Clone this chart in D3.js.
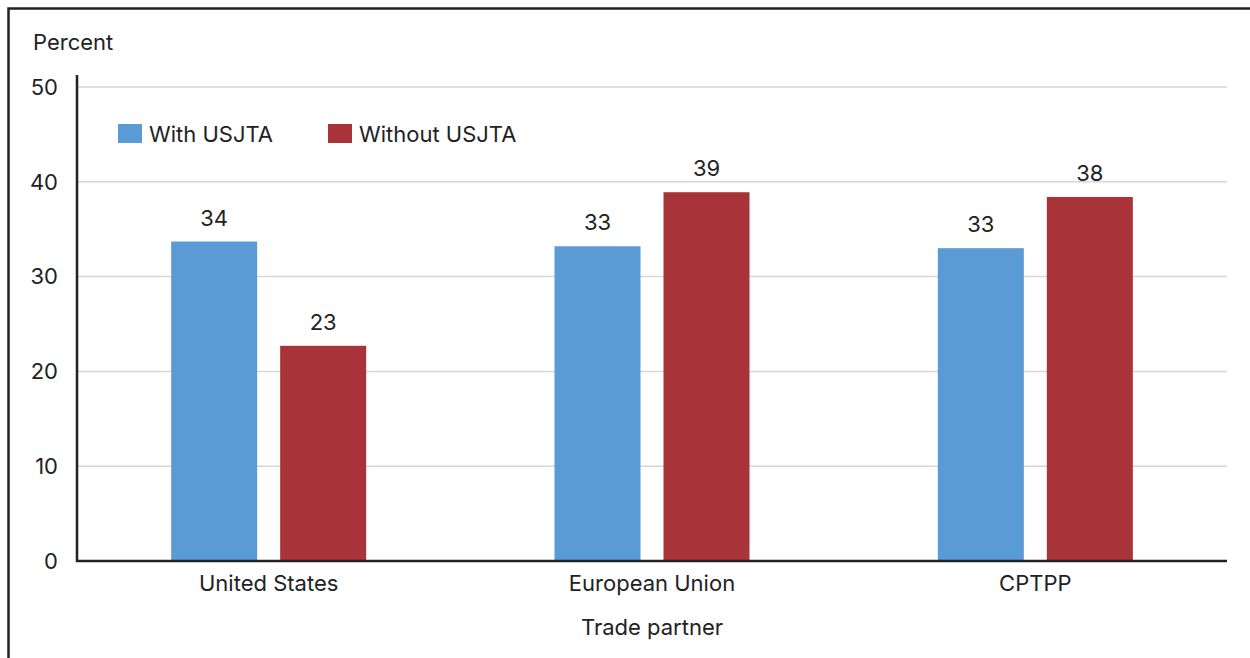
<!DOCTYPE html>
<html>
<head>
<meta charset="utf-8">
<script src="https://cdn.jsdelivr.net/npm/d3@7"></script>
<style>
  body { margin: 0; background: #fff; }
  svg { display: block; font-family: Inter, "Noto Sans", sans-serif; }
</style>
</head>
<body>
<svg id="chart" width="1250" height="658"></svg>
<script>
// Chart data
const partners = ['United States', 'European Union', 'CPTPP'];
const seriesNames = ['With USJTA', 'Without USJTA'];
const withUSJTA = [33.7, 33.2, 33.0];
const withoutUSJTA = [22.7, 38.9, 38.4];
const labelsWith = ['34', '33', '33'];
const labelsWithout = ['23', '39', '38'];
const yTicks = [0, 10, 20, 30, 40, 50];

const colors = ['#5b9bd5', '#a83339'];
const textColor = '#222';
const fs = 22;

const svg = d3.select('#chart');
const margin = { left: 77, right: 23, top: 87, bottom: 97 };
const W = 1250, H = 658;
const groupW = 195;

// Frame (top and left edges only)
svg.append('path')
    .attr('d', `M8.5,658 V8.5 H1250`)
    .attr('fill', 'none')
    .attr('stroke', '#222')
    .attr('stroke-width', 2.5);

const x0 = d3.scaleBand()
    .domain(partners)
    .range([margin.left, W - margin.right]);

const x1 = d3.scaleBand()
    .domain(seriesNames)
    .range([0, groupW])
    .paddingInner(0.211);

const y = d3.scaleLinear()
    .domain([0, 50])
    .range([H - margin.bottom, margin.top]);

// Gridlines
svg.append('g')
    .selectAll('line')
    .data(yTicks.filter(d => d > 0))
    .join('line')
    .attr('x1', margin.left)
    .attr('x2', W - margin.right)
    .attr('y1', d => y(d))
    .attr('y2', d => y(d))
    .attr('stroke', '#d6d6d6')
    .attr('stroke-width', 1.5);

// Y tick labels
svg.append('g')
    .selectAll('text')
    .data(yTicks)
    .join('text')
    .attr('x', 58)
    .attr('y', d => y(d))
    .attr('dy', '0.35em')
    .attr('text-anchor', 'end')
    .attr('font-size', fs)
    .attr('fill', textColor)
    .text(d => d);

svg.append('text')
    .attr('x', 33)
    .attr('y', 50)
    .attr('font-size', fs)
    .attr('fill', textColor)
    .text('Percent');

// Bars
const rows = partners.map((p, i) => ({
    partner: p,
    vals: [
        { s: seriesNames[0], v: withUSJTA[i], lab: labelsWith[i], c: colors[0] },
        { s: seriesNames[1], v: withoutUSJTA[i], lab: labelsWithout[i], c: colors[1] }
    ]
}));

const groups = svg.append('g')
    .selectAll('g')
    .data(rows)
    .join('g')
    .attr('transform', d => `translate(${x0(d.partner) + (x0.bandwidth() - groupW) / 2},0)`);

groups.selectAll('rect')
    .data(d => d.vals)
    .join('rect')
    .attr('x', d => x1(d.s))
    .attr('width', x1.bandwidth())
    .attr('y', d => y(d.v))
    .attr('height', d => y(0) - y(d.v))
    .attr('fill', d => d.c);

groups.selectAll('text')
    .data(d => d.vals)
    .join('text')
    .attr('x', d => x1(d.s) + x1.bandwidth() / 2)
    .attr('y', d => y(d.v) - 16)
    .attr('text-anchor', 'middle')
    .attr('font-size', fs)
    .attr('fill', textColor)
    .text(d => d.lab);

// Axis lines
svg.append('line')
    .attr('x1', margin.left).attr('x2', margin.left)
    .attr('y1', y(50) - 12).attr('y2', y(0) + 1)
    .attr('stroke', '#222').attr('stroke-width', 2.5);

svg.append('line')
    .attr('x1', margin.left - 1).attr('x2', W - margin.right)
    .attr('y1', y(0)).attr('y2', y(0))
    .attr('stroke', '#222').attr('stroke-width', 2.5);

// Category labels
svg.append('g')
    .selectAll('text')
    .data(partners)
    .join('text')
    .attr('x', d => x0(d) + x0.bandwidth() / 2)
    .attr('y', 591)
    .attr('text-anchor', 'middle')
    .attr('font-size', fs)
    .attr('fill', textColor)
    .text(d => d);

svg.append('text')
    .attr('x', (x0.range()[0] + x0.range()[1]) / 2)
    .attr('y', 635)
    .attr('text-anchor', 'middle')
    .attr('font-size', fs)
    .attr('fill', textColor)
    .text('Trade partner');

// Legend
const legendX = [118, 328];
const legend = svg.append('g')
    .selectAll('g')
    .data(seriesNames)
    .join('g')
    .attr('transform', (d, i) => `translate(${legendX[i]},124)`);

legend.append('rect')
    .attr('width', 24)
    .attr('height', 19)
    .attr('fill', (d, i) => colors[i]);

legend.append('text')
    .attr('x', 31)
    .attr('y', 18)
    .attr('font-size', fs)
    .attr('fill', textColor)
    .text(d => d);
</script>
</body>
</html>
